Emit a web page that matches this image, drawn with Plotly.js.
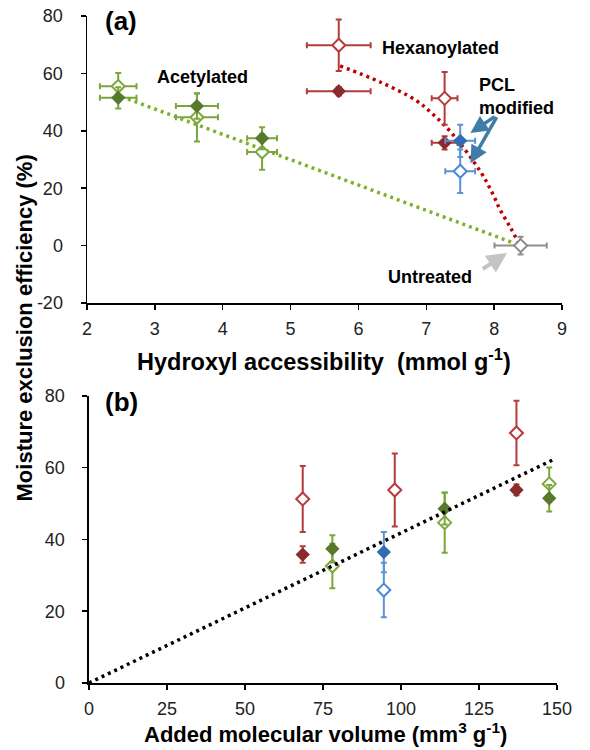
<!DOCTYPE html>
<html>
<head>
<meta charset="utf-8">
<script src="https://cdn.plot.ly/plotly-3.0.1.min.js"></script>
<style>html,body{margin:0;padding:0;background:#fff;}#chart{width:590px;height:750px;}</style>
</head>
<body>
<div id="chart"></div>
<script>
// ---------- data ----------
const acetylHydroxyl = [2.46, 3.62, 4.58];
const acetylHydroxylErr = [0.27, 0.31, 0.22];
const acetylVolume = [147.5, 114, 78];
const acetylMeeFilled = [51.5, 48.6, 37.4];
const acetylMeeFilledErr = [3.7, 4.4, 3.8];
const acetylMeeOpen = [55.5, 44.7, 32.6];
const acetylMeeOpenErr = [4.6, 8.4, 6.2];

const hexHydroxyl = [5.71, 7.27];
const hexHydroxylErr = [0.47, 0.19];
const hexMeeFilled = [53.8, 35.8];
const hexMeeFilledErr = [1.5, 2.3];
const hexMeeOpen = [69.8, 51.3];
const hexMeeOpenErr = [9.0, 9.2];
const hexVolumeFilled = [137, 68.5];
const hexVolumeOpen = [137, 68.5, 98];
const hexMeeOpenB = [69.7, 51.3, 53.8];
const hexMeeOpenBErr = [9.0, 9.2, 10.2];

const pclHydroxyl = [7.5];
const pclHydroxylErr = [0.22];
const pclVolume = [94.5];
const pclMeeFilled = [36.5];
const pclMeeFilledErr = [5.6];
const pclMeeOpen = [25.9];
const pclMeeOpenErr = [7.6];

const untreatedHydroxyl = [8.39];
const untreatedHydroxylErr = [0.385];
const untreatedMee = [0];
const untreatedMeeErr = [3.1];

const acetylTrendX = [2.41, 8.3];
const acetylTrendY = [52.8, 0.8];
const hexTrendX = [5.73, 6.32, 6.84, 7.11, 7.40, 7.80, 7.97, 8.09, 8.24, 8.36];
const hexTrendY = [62.6, 57.0, 50.7, 45.5, 38.5, 25.7, 18.5, 12.4, 6.3, 1.0];
const volTrendX = [0, 148.7];
const volTrendY = [0, 62.2];

const xTicksA = [2, 3, 4, 5, 6, 7, 8, 9];
const yTicksA = [-20, 0, 20, 40, 60, 80];
const xTicksB = [0, 25, 50, 75, 100, 125, 150];
const yTicksB = [0, 20, 40, 60, 80];

// ---------- styles ----------
const C = {
  gErr: '#7aa63a', gFill: '#56792b', gOpen: '#7aa83c', gLine: '#80b02a',
  rErr: '#b23c3c', rFill: '#8c2b2b', rOpen: '#b83a3a', rLine: '#c00000',
  bErr: '#5b93d3', bFill: '#2f6cb2', bOpen: '#4c8bd2',
  kErr: '#8f8f8f', kOpen: '#8a8a8a'
};
const FONT = 'Arial, "Liberation Sans", sans-serif';

function pts(x, y, xe, ye, color, errColor, open, xa, ya) {
  const t = {
    type: 'scatter', mode: 'markers', x: x, y: y, xaxis: xa, yaxis: ya,
    marker: open
      ? {symbol: 'diamond', size: 10, color: '#ffffff', line: {color: color, width: 2}}
      : {symbol: 'diamond', size: 11, color: color, line: {width: 0}},
    error_y: {type: 'data', array: ye, visible: true, color: errColor, thickness: 2, width: 3},
    hoverinfo: 'skip'
  };
  if (xe) t.error_x = {type: 'data', array: xe, visible: true, color: errColor, thickness: 2, width: 3};
  return t;
}
function trend(x, y, color, xa, ya, shape) {
  return {type: 'scatter', mode: 'lines', x: x, y: y, xaxis: xa, yaxis: ya,
    line: {color: color, width: 3.5, dash: '3px,4px', shape: shape || 'linear'}, hoverinfo: 'skip'};
}

const data = [
  // panel a
  trend(acetylTrendX, acetylTrendY, C.gLine, 'x', 'y'),
  trend(hexTrendX, hexTrendY, C.rLine, 'x', 'y', 'spline'),
  pts(acetylHydroxyl, acetylMeeOpen, acetylHydroxylErr, acetylMeeOpenErr, C.gOpen, C.gErr, true, 'x', 'y'),
  pts(acetylHydroxyl, acetylMeeFilled, acetylHydroxylErr, acetylMeeFilledErr, C.gFill, C.gErr, false, 'x', 'y'),
  pts(hexHydroxyl, hexMeeOpen, hexHydroxylErr, hexMeeOpenErr, C.rOpen, C.rErr, true, 'x', 'y'),
  pts(hexHydroxyl, hexMeeFilled, hexHydroxylErr, hexMeeFilledErr, C.rFill, C.rErr, false, 'x', 'y'),
  pts(pclHydroxyl, pclMeeOpen, pclHydroxylErr, pclMeeOpenErr, C.bOpen, C.bErr, true, 'x', 'y'),
  pts(pclHydroxyl, pclMeeFilled, pclHydroxylErr, pclMeeFilledErr, C.bFill, C.bErr, false, 'x', 'y'),
  pts(untreatedHydroxyl, untreatedMee, untreatedHydroxylErr, untreatedMeeErr, C.kOpen, C.kErr, true, 'x', 'y'),
  // panel b
  pts(acetylVolume, acetylMeeOpen, null, acetylMeeOpenErr, C.gOpen, C.gErr, true, 'x2', 'y2'),
  pts(acetylVolume, acetylMeeFilled, null, acetylMeeFilledErr, C.gFill, C.gErr, false, 'x2', 'y2'),
  pts(hexVolumeOpen, hexMeeOpenB, null, hexMeeOpenBErr, C.rOpen, C.rErr, true, 'x2', 'y2'),
  pts(hexVolumeFilled, hexMeeFilled, null, hexMeeFilledErr, C.rFill, C.rErr, false, 'x2', 'y2'),
  pts(pclVolume, pclMeeOpen, null, pclMeeOpenErr, C.bOpen, C.bErr, true, 'x2', 'y2'),
  pts(pclVolume, pclMeeFilled, null, pclMeeFilledErr, C.bFill, C.bErr, false, 'x2', 'y2'),
  trend(volTrendX, volTrendY, '#000000', 'x2', 'y2')
];

function axis(extra) {
  return Object.assign({
    showgrid: false, zeroline: false, showline: true, linecolor: '#000', linewidth: 1.5,
    ticks: 'outside', ticklen: 5, tickwidth: 1.5, tickcolor: '#000',
    tickfont: {family: FONT, size: 18, color: '#222'}, tickmode: 'array'
  }, extra);
}

const boldFont = (s) => ({family: FONT, size: s, color: '#000', weight: 'bold'});

const layout = {
  width: 590, height: 750,
  margin: {l: 87, r: 28, t: 16, b: 67},
  paper_bgcolor: '#fff', plot_bgcolor: '#fff',
  showlegend: false,
  font: {family: FONT},
  xaxis: axis({domain: [0, 1], range: [2, 9], anchor: 'y', tickvals: xTicksA, ticktext: xTicksA.map(String), ticklabelstandoff: 4}),
  yaxis: axis({domain: [0.5697, 1], range: [-20, 80], anchor: 'x', tickvals: yTicksA, ticktext: yTicksA.map(String), ticklabelstandoff: 14}),
  xaxis2: axis({domain: [0.0042, 0.9895], range: [0, 150], anchor: 'y2', tickvals: xTicksB, ticktext: xTicksB.map(String), ticklabelstandoff: 4}),
  yaxis2: axis({domain: [0, 0.4303], range: [0, 80], anchor: 'x2', tickvals: yTicksB, ticktext: yTicksB.map(String), ticklabelstandoff: 14}),
  annotations: [
    {xref: 'paper', yref: 'paper', x: -0.132, y: 0.532, textangle: -90, showarrow: false,
     text: 'Moisture exclusion efficiency (%)', font: boldFont(22), xanchor: 'center', yanchor: 'middle'},
    {xref: 'paper', yref: 'paper', x: 0.498, y: 0.4843, showarrow: false,
     text: 'Hydroxyl accessibility  (mmol g<sup>-1</sup>)', font: boldFont(23.5), xanchor: 'center', yanchor: 'middle'},
    {xref: 'paper', yref: 'paper', x: 0.502, y: -0.0757, showarrow: false,
     text: 'Added molecular volume (mm<sup>3</sup> g<sup>-1</sup>)', font: boldFont(22), xanchor: 'center', yanchor: 'middle'},
    {xref: 'paper', yref: 'paper', x: 0.034, y: 0.9925, showarrow: false, text: '(a)', font: boldFont(26), xanchor: 'left', yanchor: 'middle'},
    {xref: 'paper', yref: 'paper', x: 0.034, y: 0.4217, showarrow: false, text: '(b)', font: boldFont(26), xanchor: 'left', yanchor: 'middle'},
    {xref: 'x', yref: 'y', x: 3.70, y: 58.7, showarrow: false, text: 'Acetylated', font: boldFont(18), xanchor: 'center', yanchor: 'middle'},
    {xref: 'x', yref: 'y', x: 6.32, y: 68.8, showarrow: false, text: 'Hexanoylated', font: boldFont(18), xanchor: 'left', yanchor: 'middle'},
    {xref: 'x', yref: 'y', x: 7.75, y: 51.9, showarrow: false, text: 'PCL<br>modified', align: 'left', font: boldFont(18), xanchor: 'left', yanchor: 'middle'},
    {xref: 'x', yref: 'y', x: 7.06, y: -10.8, showarrow: false, text: 'Untreated', font: boldFont(18), xanchor: 'center', yanchor: 'middle'},
    {xref: 'x', yref: 'y', axref: 'x', ayref: 'y', x: 7.65, y: 39.2, ax: 8.03, ay: 45.3, text: '', showarrow: true,
     arrowhead: 2, arrowsize: 1, arrowwidth: 3.5, arrowcolor: '#3f7ca8'},
    {xref: 'x', yref: 'y', axref: 'x', ayref: 'y', x: 7.65, y: 28.7, ax: 8.05, ay: 45.3, text: '', showarrow: true,
     arrowhead: 2, arrowsize: 1, arrowwidth: 3.5, arrowcolor: '#3f7ca8'},
    {xref: 'x', yref: 'y', axref: 'x', ayref: 'y', x: 8.19, y: -2.6, ax: 7.81, ay: -8.5, text: '', showarrow: true,
     arrowhead: 2, arrowsize: 1, arrowwidth: 4, arrowcolor: '#c4c4c4'}
  ]
};

Plotly.newPlot('chart', data, layout, {staticPlot: true, displayModeBar: false});
</script>
</body>
</html>
